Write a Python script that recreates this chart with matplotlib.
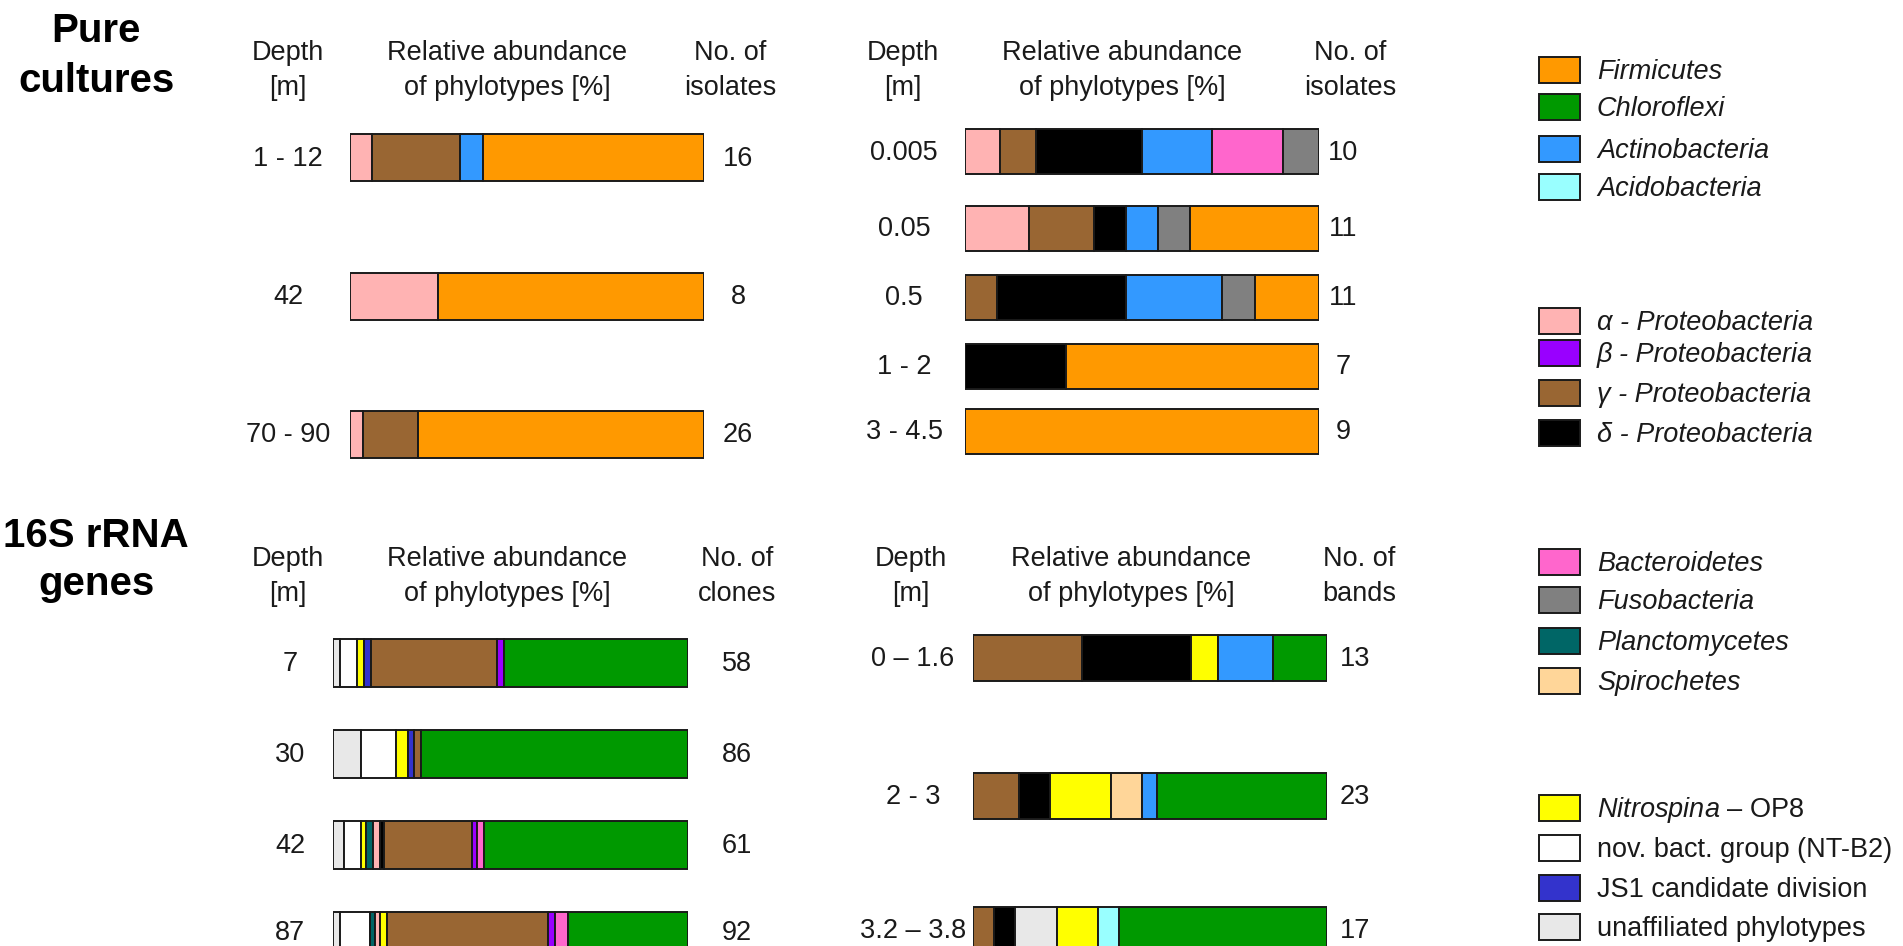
import numpy as np
import matplotlib
matplotlib.use('Agg')
import matplotlib.pyplot as plt
from matplotlib.patches import Rectangle

plt.rcParams['font.family'] = ['Liberation Sans', 'DejaVu Sans']
plt.rcParams['mathtext.fontset'] = 'custom'
plt.rcParams['mathtext.it'] = 'Liberation Sans:italic'
plt.rcParams['mathtext.rm'] = 'Liberation Sans'
plt.rcParams['text.color'] = '#1a1a1a'

# taxa, legend order
taxa = ['firm', 'chlor', 'actino', 'acido', 'alpha', 'beta', 'gamma', 'delta',
        'bacter', 'fuso', 'plancto', 'spiro', 'nitro', 'novb', 'js1', 'unaff']
taxa_labels = ['Firmicutes', 'Chloroflexi', 'Actinobacteria', 'Acidobacteria',
               'α - Proteobacteria', 'β - Proteobacteria', 'γ - Proteobacteria',
               'δ - Proteobacteria', 'Bacteroidetes', 'Fusobacteria',
               'Planctomycetes', 'Spirochetes', r'$\mathit{Nitrospina}$ – OP8',
               'nov. bact. group (NT-B2)', 'JS1 candidate division',
               'unaffiliated phylotypes']
taxa_colors = ['#FF9900', '#009900', '#3399FF', '#99FFFF', '#FFB3B3', '#9900FF',
               '#996633', '#000000', '#FF66CC', '#808080', '#006666', '#FFD699',
               '#FFFF00', '#FFFFFF', '#3333CC', '#E8E8E8']
taxa_italic = [True] * 12 + [False] * 4
colors = dict(zip(taxa, taxa_colors))

# pure cultures, left
pl_depth = ['1 - 12', '42', '70 - 90']
pl_n = [16, 8, 26]
pl_taxa = [['alpha', 'gamma', 'actino', 'firm'],
           ['alpha', 'firm'],
           ['alpha', 'gamma', 'firm']]
pl_pct = [[6.25, 25.0, 6.25, 62.5],
          [25.0, 75.0],
          [3.8, 15.4, 80.8]]

# pure cultures, right
pr_depth = ['0.005', '0.05', '0.5', '1 - 2', '3 - 4.5']
pr_n = [10, 11, 11, 7, 9]
pr_taxa = [['alpha', 'gamma', 'delta', 'actino', 'bacter', 'fuso'],
           ['alpha', 'gamma', 'delta', 'actino', 'fuso', 'firm'],
           ['gamma', 'delta', 'actino', 'fuso', 'firm'],
           ['delta', 'firm'],
           ['firm']]
pr_pct = [[10, 10, 30, 20, 20, 10],
          [18.2, 18.2, 9.1, 9.1, 9.1, 36.3],
          [9.1, 36.4, 27.3, 9.1, 18.1],
          [28.6, 71.4],
          [100]]

# 16S rRNA genes, clone libraries
cl_depth = ['7', '30', '42', '87']
cl_n = [58, 86, 61, 92]
cl_taxa = [['unaff', 'novb', 'nitro', 'js1', 'gamma', 'beta', 'chlor'],
           ['unaff', 'novb', 'nitro', 'js1', 'gamma', 'chlor'],
           ['unaff', 'novb', 'nitro', 'plancto', 'alpha', 'delta', 'gamma',
            'beta', 'bacter', 'chlor'],
           ['unaff', 'novb', 'plancto', 'alpha', 'nitro', 'gamma', 'beta',
            'bacter', 'chlor']]
cl_pct = [[1.9, 4.9, 2.0, 1.8, 35.7, 2.0, 51.7],
          [7.9, 9.8, 3.4, 1.7, 1.9, 75.3],
          [3.0, 4.8, 1.4, 2.1, 1.9, 1.2, 24.7, 1.4, 1.9, 57.6],
          [1.9, 8.5, 1.4, 1.4, 1.9, 45.6, 1.9, 3.5, 33.9]]

# 16S rRNA genes, DGGE bands
bd_depth = ['0 – 1.6', '2 - 3', '3.2 – 3.8']
bd_n = [13, 23, 17]
bd_taxa = [['gamma', 'delta', 'nitro', 'actino', 'chlor'],
           ['gamma', 'delta', 'nitro', 'spiro', 'actino', 'chlor'],
           ['gamma', 'delta', 'unaff', 'nitro', 'acido', 'chlor']]
bd_pct = [[30.8, 30.8, 7.7, 15.4, 15.3],
          [13.0, 8.7, 17.4, 8.7, 4.3, 47.9],
          [5.9, 5.9, 11.8, 11.8, 5.9, 58.7]]

W, H = 1903, 946
FS = 19.5
fig = plt.figure(figsize=(W / 100, H / 100), dpi=100)


def ftext(x, y, s, **kw):
    kw.setdefault('fontsize', FS)
    kw.setdefault('ha', 'center')
    kw.setdefault('va', 'baseline')
    fig.text(x / W, 1 - y / H, s, **kw)


def panel(left, right, rows, height, depth, n, seg_taxa, seg_pct,
          head_x, head_y, last_head, depth_x, n_x):
    ax = fig.add_axes([left / W, 0, (right - left) / W, 1])
    ax.set_xlim(0, 100)
    ax.set_ylim(H, 0)
    ax.axis('off')
    for yc, tx, vals in zip(rows, seg_taxa, seg_pct):
        vals = np.asarray(vals, dtype=float)
        starts = np.concatenate([[0], np.cumsum(vals)[:-1]])
        ax.barh(np.full(len(vals), yc), vals, left=starts, height=height,
                color=[colors[t] for t in tx], edgecolor='#1a1a1a',
                linewidth=1.4)
    for yc, d, k in zip(rows, depth, n):
        # keep the bottom row labels inside the page
        base = min(yc + 8, H - 6)
        ftext(depth_x, base, d)
        ftext(n_x, base, str(k))
    heads = [('Depth', '[m]'),
             ('Relative abundance', 'of phylotypes [%]'),
             ('No. of', last_head)]
    for hx, (l1, l2) in zip(head_x, heads):
        ftext(hx, head_y, l1)
        ftext(hx, head_y + 35, l2)


panel(350, 703.5, [158, 296, 434], 47, pl_depth, pl_n, pl_taxa, pl_pct,
      [288, 507, 730], 60, 'isolates', 288, 738)
panel(965, 1318.5, [152, 228, 297, 366, 431], 45, pr_depth, pr_n, pr_taxa,
      pr_pct, [903, 1122, 1350], 60, 'isolates', 904, 1343)
panel(333.3, 687.7, [663, 754, 845, 936], 48, cl_depth, cl_n, cl_taxa,
      cl_pct, [288, 507, 737], 566, 'clones', 290, 737)
panel(973.3, 1326.7, [658, 796, 930], 46, bd_depth, bd_n, bd_taxa, bd_pct,
      [911, 1131, 1359], 566, 'bands', 913, 1355)

# section titles
for txt, y in [('Pure', 42), ('cultures', 92), ('16S rRNA', 547), ('genes', 595)]:
    ftext(96, y, txt, fontsize=29, fontweight='bold', color='black')

# legend
leg = fig.add_axes([0, 0, 1, 1])
leg.set_xlim(0, W)
leg.set_ylim(H, 0)
leg.axis('off')
leg_top = [57, 94, 136, 174, 308, 340, 380, 420,
           549, 587, 628, 668, 795, 835, 875, 914]
for t, lab, it, yt in zip(taxa, taxa_labels, taxa_italic, leg_top):
    leg.add_patch(Rectangle((1539, yt), 41, 26, facecolor=colors[t],
                            edgecolor='#1a1a1a', linewidth=1.4))
    leg.text(1597, yt + 22, lab, fontsize=FS, ha='left', va='baseline',
             fontstyle='italic' if it else 'normal')

fig.savefig('out.png', dpi=100, facecolor='white')
